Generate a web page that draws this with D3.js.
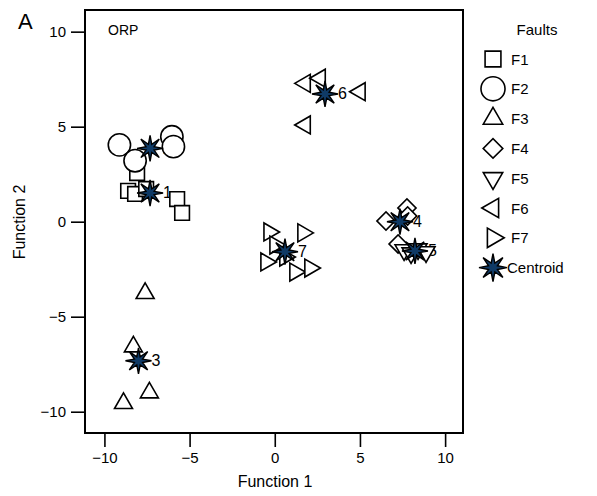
<!DOCTYPE html>
<html><head><meta charset="utf-8">
<script src="https://cdn.jsdelivr.net/npm/d3@7"></script>
<style>body{margin:0;background:#fff}svg{display:block}text{font-family:Arial,"Liberation Sans",sans-serif}</style>
</head><body><svg id="c" width="597" height="496"></svg>
<script>
const faults = ["F1","F2","F3","F4","F5","F6","F7"];
const f1 = [[-8.61,1.62],[-8.08,2.56],[-8.20,1.46],[-7.55,1.72],[-5.73,1.19],[-5.44,0.46]];
const f2 = [[-9.12,4.04],[-8.20,3.21],[-6.04,4.47],[-5.95,3.95]];
const f3 = [[-7.61,-3.77],[-8.30,-6.58],[-7.36,-9.00],[-8.88,-9.56]];
const f4 = [[6.53,0.04],[7.76,0.72],[7.24,-1.17],[7.80,0.30]];
const f5 = [[7.59,-1.49],[8.00,-1.65],[8.41,-1.44],[8.88,-1.59]];
const f6 = [[1.78,7.28],[2.66,7.55],[5.00,6.84],[1.78,5.09]];
const f7 = [[-0.33,-0.54],[1.66,-0.59],[-0.51,-2.12],[0.02,-1.23],[1.19,-2.65],[2.07,-2.44],[0.60,-1.86]];
const seriesPoints = [f1,f2,f3,f4,f5,f6,f7];
const centroidLabels = ["1","2","3","4","5","6","7"];
const centroids = [[-7.32,1.51],[-7.32,3.86],[-8.00,-7.32],[7.35,0.00],[8.23,-1.54],[2.95,6.72],[0.60,-1.58]];
const xTicks = [-10,-5,0,5,10];
const yTicks = [-10,-5,0,5,10];

const svg = d3.select("#c");
const L=85,R=463,T=10,B=433;
const x = d3.scaleLinear().domain([-11.14,11.05]).range([L,R]);
const y = d3.scaleLinear().domain([-11.12,11.14]).range([B,T]);

function shapePath(i, s){
  const tri = d3.symbol(d3.symbolTriangle, 140*s*s)();
  switch(i){
    case 0: return {d:d3.symbol(d3.symbolSquare, 215*s*s)(), r:0};
    case 1: return {d:d3.symbol(d3.symbolCircle, 390*s*s)(), r:0};
    case 2: return {d:tri, r:0};
    case 3: return {d:d3.symbol(d3.symbolSquare, 165*s*s)(), r:45};
    case 4: return {d:tri, r:180};
    case 5: return {d:tri, r:-90};
    case 6: return {d:tri, r:90};
  }
}
function starPath(ro, ri, n){
  const pts=[];
  for(let k=0;k<2*n;k++){
    const a = Math.PI*k/n - Math.PI/2;
    const r = k%2===0?ro:ri;
    pts.push([r*Math.cos(a), r*Math.sin(a)]);
  }
  return "M"+pts.map(p=>p[0].toFixed(2)+","+p[1].toFixed(2)).join("L")+"Z";
}
const star = starPath(13,4.4,8);
const starL = starPath(14,4.8,8);

svg.append("rect").attr("x",L).attr("y",T).attr("width",R-L).attr("height",B-T)
  .attr("fill","none").attr("stroke","#000").attr("stroke-width",2);

const xa = svg.append("g").attr("transform",`translate(0,${B+1})`)
  .call(d3.axisBottom(x).tickValues(xTicks).tickSize(13).tickPadding(5).tickFormat(d3.format("d")));
const ya = svg.append("g").attr("transform",`translate(${L-1},0)`)
  .call(d3.axisLeft(y).tickValues(yTicks).tickSize(13).tickPadding(5).tickFormat(d3.format("d")));
[xa,ya].forEach(a=>{
  a.select(".domain").remove();
  a.selectAll("line").attr("stroke","#000").attr("stroke-width",1.6);
  a.selectAll("text").attr("font-size",15).attr("fill","#000").attr("font-family","Arial, 'Liberation Sans', sans-serif");
});

svg.append("text").attr("x",275).attr("y",487).attr("text-anchor","middle").attr("font-size",16).text("Function 1");
svg.append("text").attr("transform","translate(25,222) rotate(-90)").attr("text-anchor","middle").attr("font-size",16).text("Function 2");
svg.append("text").attr("x",18).attr("y",29).attr("font-size",22).text("A");
svg.append("text").attr("x",108).attr("y",35).attr("font-size",14).text("ORP");

svg.append("g").selectAll("text").data(centroids).join("text")
  .attr("x",d=>x(d[0])+13).attr("y",d=>y(d[1])+5.5).attr("font-size",16).text((d,i)=>centroidLabels[i]);

seriesPoints.forEach((pts,i)=>{
  const sp = shapePath(i,1);
  svg.append("g").selectAll("path").data(pts).join("path")
    .attr("d",sp.d).attr("transform",d=>`translate(${x(d[0])},${y(d[1])}) rotate(${sp.r})`)
    .attr("fill","#fff").attr("stroke","#000").attr("stroke-width",1.6);
});

svg.append("g").selectAll("path").data(centroids).join("path")
  .attr("d",star).attr("transform",d=>`translate(${x(d[0])},${y(d[1])})`)
  .attr("fill","#0f3a66").attr("stroke","#000").attr("stroke-width",1.4).attr("stroke-linejoin","miter");

const lg = svg.append("g");
lg.append("text").attr("x",537).attr("y",35).attr("text-anchor","middle").attr("font-size",15).text("Faults");
const legY = i => 59 + i*29.8;
faults.forEach((f,i)=>{
  const sp = shapePath(i,1.08);
  lg.append("path").attr("d",sp.d).attr("transform",`translate(493,${legY(i)}) rotate(${sp.r})`)
    .attr("fill","#fff").attr("stroke","#000").attr("stroke-width",1.6);
  lg.append("text").attr("x",511).attr("y",legY(i)+5.5).attr("font-size",15).text(f);
});
lg.append("path").attr("d",starL).attr("transform",`translate(493,${legY(7)})`)
  .attr("fill","#0f3a66").attr("stroke","#000").attr("stroke-width",1.4);
lg.append("text").attr("x",507).attr("y",legY(7)+5.5).attr("font-size",15).text("Centroid");
</script></body></html>
